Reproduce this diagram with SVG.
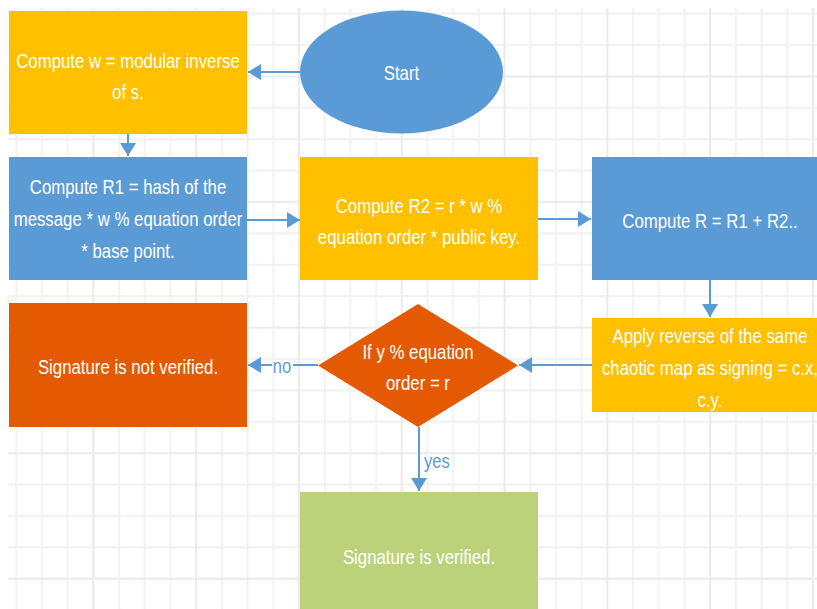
<svg xmlns="http://www.w3.org/2000/svg" width="817" height="609" viewBox="0 0 817 609">
<style>
.t{font-family:"Liberation Sans",Arial,sans-serif;font-size:16.8px;fill:#ffffff;text-anchor:middle;transform-box:fill-box;transform-origin:center;transform:scaleY(1.2)}
.lbl{font-family:"Liberation Sans",Arial,sans-serif;font-size:16.5px;fill:#5b9bd5;transform-box:fill-box;transform-origin:center;transform:scaleY(1.2)}
.c{stroke:#5b9bd5;stroke-width:2;fill:none}
.ca{stroke:#5b9bd5;stroke-width:2;fill:none;marker-end:url(#ah)}
.yellow{fill:#ffc000}
.blue{fill:#5b9bd5}
.orange{fill:#e45a02}
.green{fill:#bbd27a}
</style>
<defs>
<marker id="ah" markerUnits="userSpaceOnUse" markerWidth="14" markerHeight="16" refX="13" refY="8" orient="auto">
<path d="M0,0 L13,8 L0,16 Z" fill="#5b9bd5"/>
</marker>
<pattern id="grid" patternUnits="userSpaceOnUse" x="3.45" y="-2.1" width="102.8" height="125.6">
<g stroke="#f1f1f1" stroke-width="1.8">
<line x1="12.85" y1="0" x2="12.85" y2="125.6"/>
<line x1="38.55" y1="0" x2="38.55" y2="125.6"/>
<line x1="64.25" y1="0" x2="64.25" y2="125.6"/>
<line x1="0" y1="15.7" x2="102.8" y2="15.7"/>
<line x1="0" y1="47.1" x2="102.8" y2="47.1"/>
<line x1="0" y1="109.9" x2="102.8" y2="109.9"/>
</g>
<g stroke="#eaeaea" stroke-width="2">
<line x1="89.95" y1="0" x2="89.95" y2="125.6"/>
<line x1="0" y1="78.5" x2="102.8" y2="78.5"/>
</g>
</pattern>
</defs>
<rect x="0" y="0" width="817" height="609" fill="#ffffff"/>
<rect x="8" y="8" width="809" height="601" fill="url(#grid)"/>

<g id="connectors">
<line class="ca" x1="300" y1="72" x2="248" y2="72"/>
<line class="ca" x1="128" y1="134" x2="128" y2="156"/>
<line class="ca" x1="247" y1="220" x2="300" y2="220"/>
<line class="ca" x1="538" y1="219" x2="591" y2="219"/>
<line class="ca" x1="710" y1="280" x2="710" y2="317"/>
<line class="ca" x1="592" y1="365" x2="519" y2="365"/>
<line class="c" x1="318" y1="365" x2="293" y2="365"/>
<line class="ca" x1="272" y1="365" x2="248" y2="365"/>
<text class="lbl" x="282" y="372" text-anchor="middle">no</text>
<line class="ca" x1="419" y1="427" x2="419" y2="491"/>
<text class="lbl" x="424" y="467">yes</text>
</g>

<g id="start">
<ellipse class="blue" cx="401.5" cy="72" rx="101.5" ry="61.5"/>
<text class="t" x="401.5" y="79">Start</text>
</g>

<g id="compute-w">
<rect class="yellow" x="9" y="11" width="238" height="123"/>
<text class="t" x="128" y="67">Compute w = modular inverse</text>
<text class="t" x="128" y="98">of s.</text>
</g>

<g id="compute-r1">
<rect class="blue" x="9" y="157" width="238" height="123"/>
<text class="t" x="128" y="193">Compute R1 = hash of the</text>
<text class="t" x="128" y="225">message * w % equation order</text>
<text class="t" x="128" y="257">* base point.</text>
</g>

<g id="compute-r2">
<rect class="yellow" x="300" y="157" width="238" height="123"/>
<text class="t" x="419" y="212">Compute R2 = r * w %</text>
<text class="t" x="419" y="243">equation order * public key.</text>
</g>

<g id="compute-r">
<rect class="blue" x="592" y="157" width="238" height="123"/>
<text class="t" x="710" y="227">Compute R = R1 + R2..</text>
</g>

<g id="apply-reverse">
<rect class="yellow" x="592" y="318" width="238" height="94"/>
<text class="t" x="710" y="342">Apply reverse of the same</text>
<text class="t" x="710" y="374">chaotic map as signing = c.x,</text>
<text class="t" x="710" y="406">c.y.</text>
</g>

<g id="decision">
<polygon class="orange" points="418,304 518,365.5 418,427 318,365.5"/>
<text class="t" x="418" y="358">If y % equation</text>
<text class="t" x="418" y="389">order = r</text>
</g>

<g id="not-verified">
<rect class="orange" x="9" y="303" width="238" height="124"/>
<text class="t" x="128" y="373">Signature is not verified.</text>
</g>

<g id="verified">
<rect class="green" x="300" y="492" width="238" height="130"/>
<text class="t" x="419" y="563">Signature is verified.</text>
</g>
</svg>
